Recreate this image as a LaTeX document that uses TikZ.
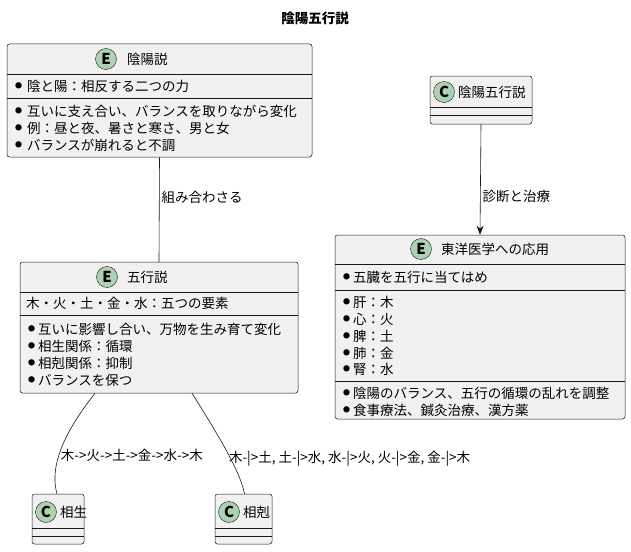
\documentclass[tikz,border=0pt]{standalone}
\usepackage{fontspec}
\setmainfont{Noto Sans CJK JP}
\usetikzlibrary{arrows.meta}

\definecolor{boxfill}{HTML}{F1F1F1}
\definecolor{boxline}{HTML}{181818}
\definecolor{spotfill}{HTML}{ADD1B2}

\tikzset{
  classbox/.style={draw=boxline,fill=boxfill,rounded corners=2.5pt,line width=0.5pt,inner sep=0pt},
  spot/.style={circle,draw=boxline,fill=spotfill,minimum size=21pt,inner sep=0pt,font=\fontsize{15}{15}\selectfont\bfseries},
  lbl/.style={anchor=west,inner sep=0pt,font=\fontsize{13.5}{15}\selectfont},
  dot/.style={anchor=west,inner sep=0pt,font=\fontsize{7}{7}\selectfont},
  link/.style={draw=boxline,line width=0.6pt}
}

\begin{document}
\begin{tikzpicture}[x=1pt,y=-1pt]
\useasboundingbox (0,0) rectangle (631,551);

% title
\node[inner sep=0pt,font=\fontsize{13.5}{15}\selectfont\bfseries] (title) at (315,18) {陰陽五行説};

% 陰陽説
\node[classbox,minimum width=305pt,minimum height=113pt] (yinyang) at (159.5,100.5) {};
\node[spot] (yinyangspot) at (106,59) {E};
\node[lbl] (yinyangname) at (127,59) {陰陽説};
\draw[boxline,line width=0.5pt] (7,74) -- (312,74);
\node[dot] at (15,86) {●}; \node[lbl] at (27,86) {陰と陽：相反する二つの力};
\draw[boxline,line width=0.5pt] (7,98) -- (312,98);
\node[dot] at (15,111) {●}; \node[lbl] at (27,111) {互いに支え合い、バランスを取りながら変化};
\node[dot] at (15,128) {●}; \node[lbl] at (27,128) {例：昼と夜、暑さと寒さ、男と女};
\node[dot] at (15,145) {●}; \node[lbl] at (27,145) {バランスが崩れると不調};

% 陰陽五行説
\node[classbox,minimum width=102pt,minimum height=48pt] (whole) at (481,100) {};
\node[spot] (wholespot) at (444,92) {C};
\node[lbl] (wholename) at (458,92) {陰陽五行説};
\draw[boxline,line width=0.5pt] (430,107) -- (532,107);
\draw[boxline,line width=0.5pt] (430,115) -- (532,115);

% 東洋医学への応用
\node[classbox,minimum width=290pt,minimum height=184pt] (medicine) at (480,327) {};
\node[spot] (medicinespot) at (421,249) {E};
\node[lbl] (medicinename) at (441,249) {東洋医学への応用};
\draw[boxline,line width=0.5pt] (335,264) -- (625,264);
\node[dot] at (343,277) {●}; \node[lbl] at (353,277) {五臓を五行に当てはめ};
\draw[boxline,line width=0.5pt] (335,290) -- (625,290);
\node[dot] at (343,302) {●}; \node[lbl] at (353,302) {肝：木};
\node[dot] at (343,319) {●}; \node[lbl] at (353,319) {心：火};
\node[dot] at (343,336) {●}; \node[lbl] at (353,336) {脾：土};
\node[dot] at (343,353) {●}; \node[lbl] at (353,353) {肺：金};
\node[dot] at (343,369) {●}; \node[lbl] at (353,369) {腎：水};
\draw[boxline,line width=0.5pt] (335,381) -- (625,381);
\node[dot] at (343,393) {●}; \node[lbl] at (353,393) {陰陽のバランス、五行の循環の乱れを調整};
\node[dot] at (343,410) {●}; \node[lbl] at (353,410) {食事療法、鍼灸治療、漢方薬};

% 五行説
\node[classbox,minimum width=278pt,minimum height=131pt] (five) at (159,327.5) {};
\node[spot] (fivespot) at (107,277) {E};
\node[lbl] (fivename) at (127,277) {五行説};
\draw[boxline,line width=0.5pt] (20,292) -- (298,292);
\node[lbl] at (26,303) {木・火・土・金・水：五つの要素};
\draw[boxline,line width=0.5pt] (20,315) -- (298,315);
\node[dot] at (28,329) {●}; \node[lbl] at (38,329) {互いに影響し合い、万物を生み育て変化};
\node[dot] at (28,346) {●}; \node[lbl] at (38,346) {相生関係：循環};
\node[dot] at (28,363) {●}; \node[lbl] at (38,363) {相剋関係：抑制};
\node[dot] at (28,380) {●}; \node[lbl] at (38,380) {バランスを保つ};

% 相生
\node[classbox,minimum width=52pt,minimum height=50pt] (gen) at (58,519) {};
\node[spot] (genspot) at (46,512) {C};
\node[lbl] (genname) at (60,512) {相生};
\draw[boxline,line width=0.5pt] (32,528) -- (84,528);
\draw[boxline,line width=0.5pt] (32,536) -- (84,536);

% 相剋
\node[classbox,minimum width=57pt,minimum height=50pt] (ctrl) at (243.5,519) {};
\node[spot] (ctrlspot) at (229,512) {C};
\node[lbl] (ctrlname) at (243,512) {相剋};
\draw[boxline,line width=0.5pt] (215,528) -- (272,528);
\draw[boxline,line width=0.5pt] (215,536) -- (272,536);

% connectors
\draw[link] (yinyang.south) -- node[lbl,pos=0.38,xshift=2pt] {組み合わさる} (five.south |- five.north);
\draw[link,-{Stealth[length=9pt,width=7pt]}] (whole.south) -- node[lbl,pos=0.65,xshift=2pt] {診断と治療} (medicine.north);
\draw[link] ([xshift=-64pt]five.south) .. controls (70,425) and (48,462) .. node[lbl,pos=0.62,xshift=2pt] {木->火->土->金->水->木} ([xshift=-1pt]gen.north);
\draw[link] ([xshift=33pt]five.south) .. controls (215,430) and (240,470) .. node[lbl,pos=0.6,xshift=-2pt] {木-|>土, 土-|>水, 水-|>火, 火-|>金, 金-|>木} ([xshift=1pt]ctrl.north);
\end{tikzpicture}
\end{document}
